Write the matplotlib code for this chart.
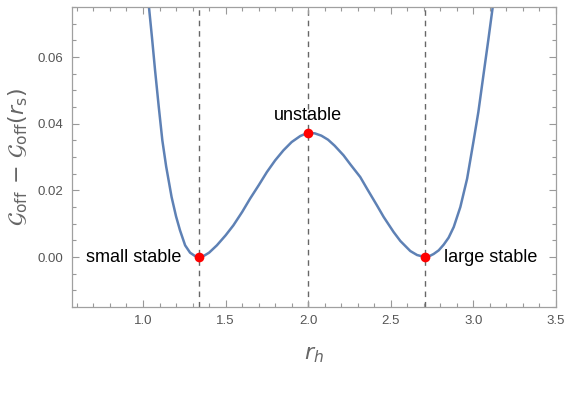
import matplotlib.pyplot as plt
from matplotlib.ticker import MultipleLocator

plt.rcParams['font.family'] = ['Liberation Sans', 'DejaVu Sans']
plt.rcParams['mathtext.fontset'] = 'dejavusans'

# curve
r_h = [1.02, 1.036, 1.055, 1.073, 1.095, 1.117, 1.14, 1.173, 1.20, 1.224,
       1.255, 1.285, 1.315, 1.341, 1.37, 1.40, 1.447, 1.50, 1.547, 1.60, 1.648, 1.70,
       1.75, 1.80, 1.85, 1.90, 1.952, 2.0, 2.04, 2.08, 2.12, 2.16, 2.214, 2.255, 2.315,
       2.356, 2.416, 2.457, 2.517, 2.558, 2.618, 2.659, 2.705, 2.735, 2.759, 2.79,
       2.82, 2.85, 2.881, 2.921, 2.962, 3.0, 3.03, 3.062, 3.09, 3.117, 3.14]
g_off = [0.083, 0.075, 0.0655, 0.056, 0.0452, 0.035, 0.0272, 0.018, 0.0122, 0.008,
         0.0035, 0.0013, 0.0003, 0.0, 0.0004, 0.0013, 0.0035, 0.0065, 0.0095, 0.0135, 0.0175, 0.0215,
         0.0255, 0.029, 0.032, 0.0345, 0.0363, 0.0373, 0.0371, 0.0364, 0.0352, 0.0334, 0.0305, 0.0278, 0.024,
         0.0205, 0.0155, 0.012, 0.0075, 0.0048, 0.0018, 0.0006, 0.0, 0.0003, 0.0009, 0.002,
         0.0037, 0.0058, 0.009, 0.015, 0.0235, 0.0345, 0.0435, 0.055, 0.065, 0.075, 0.084]

crit_r = [1.341, 2.0, 2.705]
crit_g = [0.0, 0.0373, 0.0]
crit_labels = ["small stable", "unstable", "large stable"]

fig = plt.figure(figsize=(5.8, 4.08), dpi=100)
ax = fig.add_axes([0.1241, 0.2475, 0.8345, 0.7353])

for r in crit_r:
    ax.axvline(r, color='#666666', linestyle=(0, (4, 3.5)), linewidth=1.0, zorder=1)

ax.plot(r_h, g_off, color='#5E81B5', linewidth=1.8, zorder=2)
ax.plot(crit_r, crit_g, 'o', color='red', markersize=7, markeredgewidth=0, zorder=3)

ax.annotate(crit_labels[0], (crit_r[0], crit_g[0]), xytext=(-13, 0), textcoords='offset points',
            ha='right', va='center', fontsize=13)
ax.annotate(crit_labels[1], (crit_r[1], crit_g[1]), xytext=(0, 9), textcoords='offset points',
            ha='center', va='baseline', fontsize=13)
ax.annotate(crit_labels[2], (crit_r[2], crit_g[2]), xytext=(14, 0), textcoords='offset points',
            ha='left', va='center', fontsize=13)

ax.set_xlim(0.57, 3.5)
ax.set_ylim(-0.015, 0.075)
ax.xaxis.set_major_locator(MultipleLocator(0.5))
ax.xaxis.set_minor_locator(MultipleLocator(0.1))
ax.yaxis.set_major_locator(MultipleLocator(0.02))
ax.yaxis.set_minor_locator(MultipleLocator(0.005))
ax.xaxis.set_major_formatter(plt.FuncFormatter(lambda v, p: f"{v:.1f}"))
ax.yaxis.set_major_formatter(plt.FuncFormatter(lambda v, p: f"{v:.2f}"))

ax.tick_params(which='both', direction='in', top=True, right=True, color='#999999',
               labelcolor='#555555', labelsize=9.5, width=0.8)
ax.tick_params(which='major', length=5, pad=6)
ax.tick_params(which='minor', length=3)
ax.tick_params(axis='x', which='both', labeltop=False)
ax.tick_params(axis='y', which='both', labelright=False)
for s in ax.spines.values():
    s.set_color('#a0a0a0')
    s.set_linewidth(0.9)

ax.set_xlabel(r"$r_h$", fontsize=16, color='#666666', labelpad=12)
ax.set_ylabel(r"$\mathcal{G}_{\rm off}\,-\,\mathcal{G}_{\rm off}(r_{\rm s})$", fontsize=16,
              color='#666666', labelpad=6)

fig.savefig("out.png", dpi=100)
